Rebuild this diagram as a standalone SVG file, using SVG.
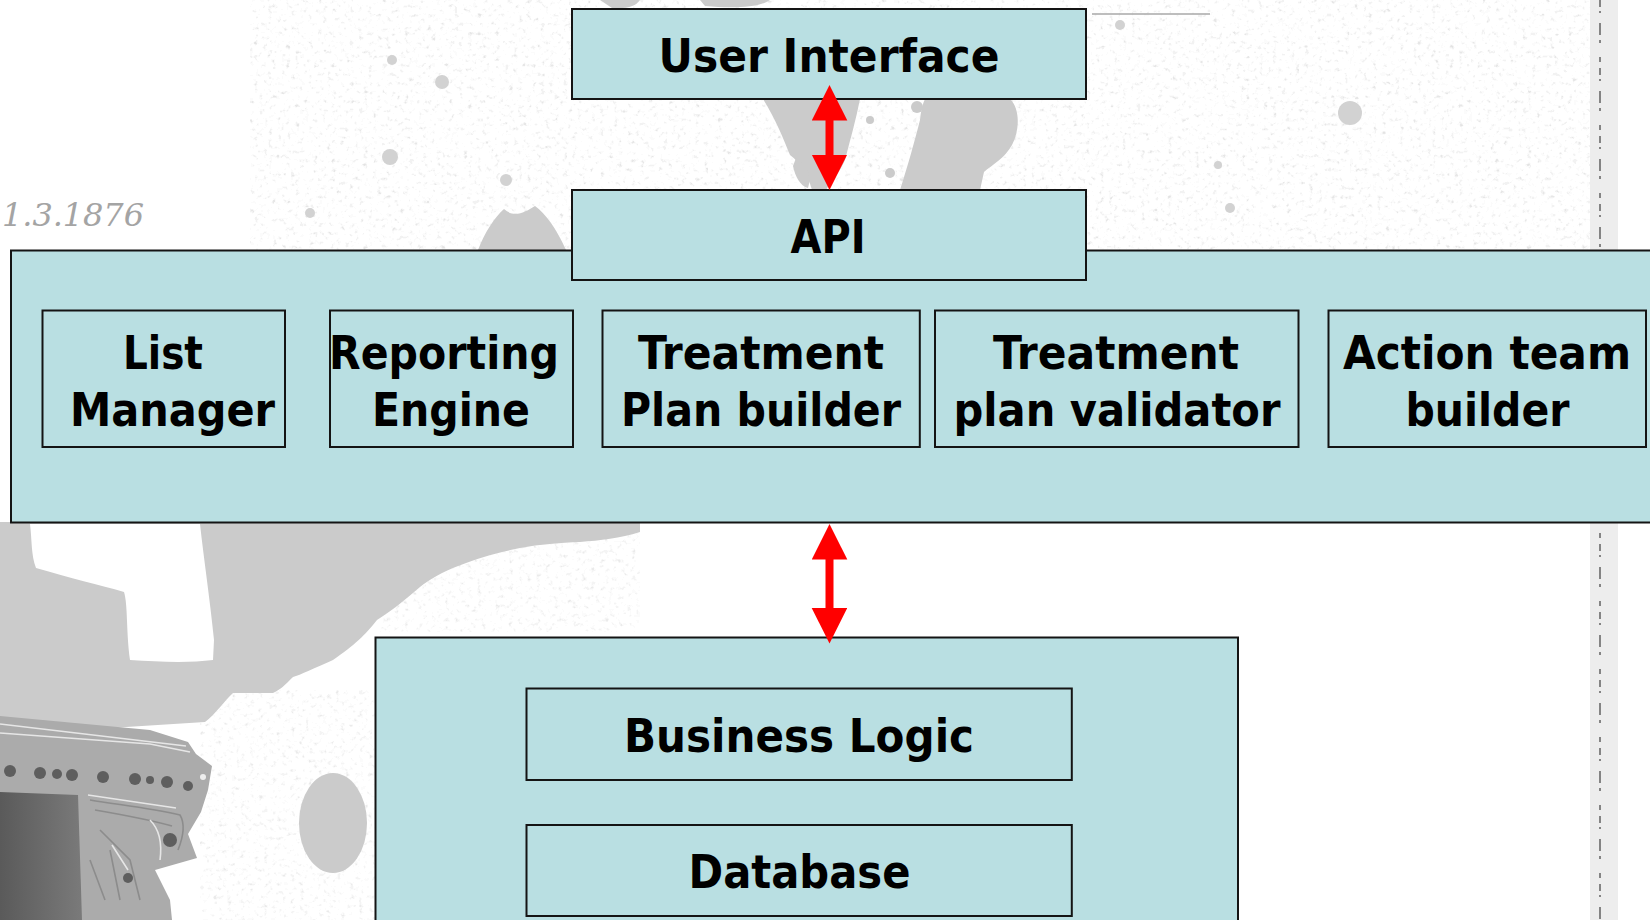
<svg xmlns="http://www.w3.org/2000/svg" width="1650" height="920" viewBox="0 0 1650 920">
  <defs>
    <style>
      .box { fill: #B9DFE2; stroke: #141414; stroke-width: 2; }
      .lbl { font-family: "DejaVu Sans Condensed", "DejaVu Sans", sans-serif; font-weight: bold; font-stretch: condensed; font-size: 46px; fill: #000; text-anchor: middle; }
      .stain { fill: #cbcbcb; }
      .dot { fill: #d2d2d2; }
      .link { stroke: #ff0000; stroke-width: 8; fill: none; marker-start: url(#head); marker-end: url(#head); }
      .trace { fill: none; stroke: #8c8c8c; stroke-width: 1.6; }
      .trace-lt { fill: none; stroke: #e6e6e6; stroke-width: 1.6; }
      .pad { fill: #5e5e5e; }
    </style>
    <marker id="head" markerUnits="userSpaceOnUse" viewBox="0 0 36 36" markerWidth="36" markerHeight="36" refX="20.5" refY="17.8" orient="auto-start-reverse">
      <path d="M0,0 L35.5,17.8 L0,35.6 Z" fill="#ff0000"/>
    </marker>
    <filter id="speckle" x="0" y="0" width="100%" height="100%">
      <feTurbulence type="fractalNoise" baseFrequency="0.22" numOctaves="2" seed="11" result="noise"/>
      <feColorMatrix in="noise" type="matrix" values="0 0 0 0 0.62  0 0 0 0 0.62  0 0 0 0 0.62  1 0 0 0 0"/>
      <feComponentTransfer>
        <feFuncA type="discrete" tableValues="0 0 0 0 0 0 0.15 0.45 0.8 0.95"/>
      </feComponentTransfer>
    </filter>
    <linearGradient id="chip" x1="0" y1="0" x2="1" y2="0">
      <stop offset="0" stop-color="#5a5a5a"/>
      <stop offset="1" stop-color="#7a7a7a"/>
    </linearGradient>
  </defs>

  <!-- paper -->
  <rect x="0" y="0" width="1650" height="920" fill="#ffffff"/>

  <!-- backdrop: stains, scribbles, board and paper edge -->
  <g id="backdrop">
    <rect x="250" y="0" width="1340" height="250" filter="url(#speckle)" opacity="0.6"/>
    <rect x="380" y="522" width="260" height="110" filter="url(#speckle)" opacity="0.5"/>
    <rect x="200" y="690" width="175" height="230" filter="url(#speckle)" opacity="0.5"/>

    <!-- stains round the top boxes -->
    <path class="stain" d="M763,99 L860,99 C856,120 850,140 845,160 C840,172 832,180 826,190 L812,190 C808,175 800,162 790,155 C784,140 776,120 763,99 Z"/>
    <path class="stain" d="M796,158 C802,160 808,168 810,180 L808,188 C800,186 795,176 793,166 Z"/>
    <path class="stain" d="M925,99 L1010,99 C1020,108 1020,130 1012,145 C1005,158 992,165 984,172 L980,190 L900,190 C908,165 915,140 920,120 C921,110 923,103 925,99 Z"/>
    <circle class="stain" cx="890" cy="173" r="5"/>
    <circle class="stain" cx="917" cy="107" r="6"/>
    <circle class="stain" cx="870" cy="120" r="4"/>
    <path class="stain" d="M478,250 C485,232 494,218 504,209 C514,218 524,213 535,206 C546,214 556,228 566,250 Z"/>
    <path class="stain" d="M600,0 L640,0 C636,6 628,9 612,8 Z"/>
    <path class="stain" d="M700,0 L770,0 C760,7 735,9 705,6 Z"/>
    <circle class="dot" cx="442" cy="82" r="7"/>
    <circle class="dot" cx="390" cy="157" r="8"/>
    <circle class="dot" cx="392" cy="60" r="5"/>
    <circle class="dot" cx="506" cy="180" r="6"/>
    <circle class="dot" cx="310" cy="213" r="5"/>
    <circle class="dot" cx="1350" cy="113" r="12" fill="#dcdcdc"/>
    <circle class="dot" cx="1120" cy="25" r="5"/>
    <circle class="dot" cx="1218" cy="165" r="4"/>
    <circle class="dot" cx="1230" cy="208" r="5"/>
    <line x1="1092" y1="14" x2="1210" y2="14" stroke="#a8a8a8" stroke-width="1.6"/>

    <text x="2" y="226" font-family="DejaVu Serif, serif" font-style="italic" font-size="32" fill="#a4a4a4" textLength="142" lengthAdjust="spacing">1.3.1876</text>

    <!-- stains below the application layer -->
    <path class="stain" d="M0,522 L640,522 L640,532 C600,545 560,540 520,548 C480,556 440,570 420,587 C405,600 390,612 377,620 C365,635 355,645 333,660 C315,668 300,675 293,677 C285,685 280,690 273,693 L233,693 C225,700 215,715 205,722 L0,735 Z"/>
    <path fill="#ffffff" d="M30,524 L200,524 C204,560 210,600 214,640 L213,660 C190,663 160,662 130,660 C126,630 128,605 124,592 C100,585 70,578 36,568 C31,555 32,540 30,524 Z"/>
    <ellipse class="stain" cx="333" cy="823" rx="34" ry="50"/>

    <!-- circuit board -->
    <path fill="#ababab" d="M0,716 L150,730 L188,742 L196,754 L212,766 L208,790 L201,812 L188,834 L197,858 L155,870 L170,900 L172,920 L0,920 Z"/>
    <path class="trace-lt" d="M0,724 L186,746 M0,733 L150,744 L190,752"/>
    <path fill="url(#chip)" d="M0,792 L78,795 L82,920 L0,920 Z"/>
    <g>
      <circle class="pad" cx="10" cy="771" r="6"/>
      <circle class="pad" cx="40" cy="773" r="6"/>
      <circle class="pad" cx="57" cy="774" r="5"/>
      <circle class="pad" cx="72" cy="775" r="6"/>
      <circle class="pad" cx="103" cy="777" r="6"/>
      <circle class="pad" cx="135" cy="779" r="6"/>
      <circle class="pad" cx="150" cy="780" r="4"/>
      <circle class="pad" cx="167" cy="782" r="6"/>
      <circle class="pad" cx="188" cy="786" r="5"/>
      <circle class="pad" cx="170" cy="840" r="7"/>
      <circle class="pad" cx="128" cy="878" r="5"/>
      <circle cx="203" cy="777" r="3" fill="#eeeeee"/>
    </g>
    <path class="trace" d="M90,800 C120,805 150,808 180,815 C186,825 182,840 178,850 M95,810 C125,815 150,820 172,826 M100,830 L130,860 L140,900 M110,850 L120,900 M90,860 L105,900"/>
    <path class="trace-lt" d="M88,795 C120,800 150,804 176,808 M112,845 L128,870 M150,820 C160,830 162,845 160,860"/>

    <!-- paper edge on the right -->
    <rect x="1590" y="0" width="28" height="920" fill="#ededed"/>
    <line x1="1600" y1="0" x2="1600" y2="920" stroke="#6a6a6a" stroke-width="1.6" stroke-dasharray="7 4 2 10 12 5 3 14 5 6"/>
  </g>

  <!-- application layer and its components -->
  <g id="app-layer">
    <rect class="box" x="11" y="250.5" width="1660" height="272"/>
  </g>

  <g id="user-interface">
    <rect class="box" x="572" y="9" width="514" height="90"/>
    <text class="lbl" x="829" y="72" textLength="341" lengthAdjust="spacingAndGlyphs">User Interface</text>
  </g>

  <g id="api">
    <rect class="box" x="572" y="190" width="514" height="90"/>
    <text class="lbl" x="828" y="253" textLength="75" lengthAdjust="spacingAndGlyphs">API</text>
  </g>

  <g id="list-manager">
    <rect class="box" x="42.5" y="310.5" width="242.5" height="136.5"/>
    <text class="lbl" x="163" y="369" textLength="80" lengthAdjust="spacingAndGlyphs">List</text>
    <text class="lbl" x="172.5" y="426" textLength="205" lengthAdjust="spacingAndGlyphs">Manager</text>
  </g>

  <g id="reporting-engine">
    <rect class="box" x="330" y="310.5" width="243" height="136.5"/>
    <text class="lbl" x="444" y="369" textLength="230" lengthAdjust="spacingAndGlyphs">Reporting</text>
    <text class="lbl" x="451" y="426" textLength="158" lengthAdjust="spacingAndGlyphs">Engine</text>
  </g>

  <g id="treatment-plan-builder">
    <rect class="box" x="602.5" y="310.5" width="317.3" height="136.5"/>
    <text class="lbl" x="761" y="369" textLength="246" lengthAdjust="spacingAndGlyphs">Treatment</text>
    <text class="lbl" x="761" y="426" textLength="280" lengthAdjust="spacingAndGlyphs">Plan builder</text>
  </g>

  <g id="treatment-plan-validator">
    <rect class="box" x="935" y="310.5" width="363.5" height="136.5"/>
    <text class="lbl" x="1116" y="369" textLength="246" lengthAdjust="spacingAndGlyphs">Treatment</text>
    <text class="lbl" x="1117" y="426" textLength="327" lengthAdjust="spacingAndGlyphs">plan validator</text>
  </g>

  <g id="action-team-builder">
    <rect class="box" x="1328.5" y="310.5" width="317.5" height="136.5"/>
    <text class="lbl" x="1487" y="369" textLength="288" lengthAdjust="spacingAndGlyphs">Action team</text>
    <text class="lbl" x="1487.5" y="426" textLength="164" lengthAdjust="spacingAndGlyphs">builder</text>
  </g>

  <!-- data layer -->
  <g id="data-layer">
    <rect class="box" x="375.5" y="637.5" width="862.5" height="300"/>
  </g>

  <g id="business-logic">
    <rect class="box" x="526.5" y="688.5" width="545.3" height="91.5"/>
    <text class="lbl" x="799" y="752" textLength="350" lengthAdjust="spacingAndGlyphs">Business Logic</text>
  </g>

  <g id="database">
    <rect class="box" x="526.5" y="825" width="545.3" height="91"/>
    <text class="lbl" x="799.5" y="888" textLength="222" lengthAdjust="spacingAndGlyphs">Database</text>
  </g>

  <!-- two-way links between layers -->
  <g id="connectors">
    <line class="link" x1="829.5" y1="100" x2="829.5" y2="175"/>
    <line class="link" x1="829.5" y1="539" x2="829.5" y2="628.5"/>
  </g>
</svg>
